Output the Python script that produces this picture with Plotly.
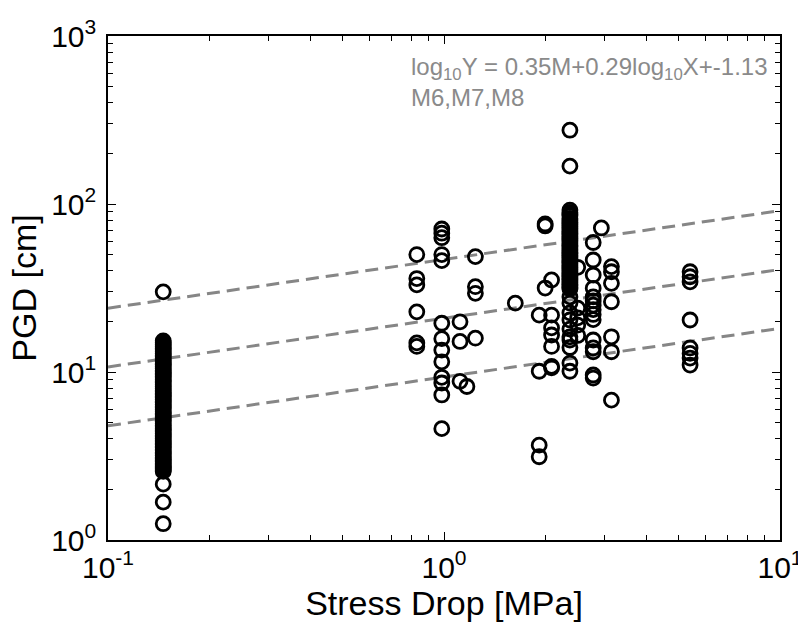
import numpy as np
import plotly.graph_objects as go

# Peak ground displacement (cm) grouped by stress drop (MPa)
stress_drop = [0.146, 0.83, 0.985, 1.116, 1.17, 1.24, 1.63, 1.92, 2.0, 2.09,
               2.37, 2.5, 2.78, 2.94, 3.15, 5.4]
pgd_groups = [
    [30, 15.3, 14.9, 14.5, 14.1, 13.8, 13.5, 13.2, 12.9, 12.6, 12.3, 12.0,
     11.7, 11.5, 11.2, 11.0, 10.7, 10.5, 10.2, 10.0, 9.8, 9.6, 9.4, 9.2, 9.0,
     8.8, 8.6, 8.4, 8.2, 8.0, 7.8, 7.6, 7.45, 7.3, 7.15, 7.0, 6.85, 6.7, 6.55,
     6.4, 6.25, 6.1, 5.95, 5.8, 5.67, 5.55, 5.42, 5.3, 5.17, 5.05, 4.92, 4.8,
     4.7, 4.6, 4.5, 4.4, 4.3, 4.2, 4.1, 4.0, 3.92, 3.85, 3.77, 3.7, 3.62,
     3.55, 3.47, 3.4, 3.32, 3.25, 3.17, 3.1, 3.04, 2.98, 2.92, 2.86, 2.8,
     2.75, 2.7, 2.65, 2.6, 2.56, 2.15, 1.68, 1.25],
    [50, 36, 33, 22.8, 14.9, 14.2],
    [71, 67, 63, 50, 46, 19.5, 15.8, 13.5, 11.5, 9.3, 8.6, 7.3, 4.6],
    [19.9, 15.2, 8.8],
    [8.2],
    [48.6, 32.2, 29.4, 15.9],
    [25.7],
    [21.8, 10.1, 3.67, 3.13],
    [76, 74, 31.6],
    [35.3, 21.8, 18.3, 16.6, 14.2, 10.8, 10.6],
    [275, 168, 92, 89, 87, 85, 82, 80, 78, 76, 74, 72, 70, 68.5, 67, 65.5, 64,
     62.5, 61, 59.5, 58, 56.7, 55.5, 54.2, 53, 51.7, 50.5, 49.2, 48, 47, 46,
     45, 44, 43, 42, 41, 40, 39.2, 38.5, 37.7, 37, 36.2, 35.5, 34.7, 34, 33.2,
     32.5, 31.8, 31.2, 28, 25.7, 22.5, 20.4, 18, 16.2, 15.5, 14, 11.3, 10.1],
    [42, 24, 21, 19, 16.5],
    [59, 46.4, 37.8, 31.5, 28, 26.5, 25, 23.5, 22, 20.5, 15.5, 13.9, 13.2,
     9.6, 9.2],
    [72],
    [42.4, 39.5, 33.7, 26.2, 16.2, 13.2, 6.8],
    [39.5, 36.9, 34.4, 20.4, 13.9, 12.9, 12.1, 11.0],
]

# Regression: log10(Y) = a*M + b*log10(X) + c
coef_a, coef_b, coef_c = 0.35, 0.29, -1.13
magnitudes = [6, 7, 8]
line_x = [0.1, 10]

x_tick_vals = [0.1, 1, 10]
x_tick_text = ["10<sup>-1</sup>", "10<sup>0</sup>", "10<sup>1</sup>"]
y_tick_vals = [1, 10, 100, 1000]
y_tick_text = ["10<sup>0</sup>", "10<sup>1</sup>", "10<sup>2</sup>", "10<sup>3</sup>"]

FONT = "Arial, Liberation Sans, Helvetica, sans-serif"

xs, ys = [], []
for sd, vals in zip(stress_drop, pgd_groups):
    xs.extend([sd] * len(vals))
    ys.extend(vals)

fig = go.Figure()

for m in magnitudes:
    lx = np.array(line_x, dtype=float)
    ly = 10 ** (coef_a * m + coef_b * np.log10(lx) + coef_c)
    fig.add_trace(go.Scatter(
        x=lx, y=ly, mode="lines",
        line=dict(color="#868686", width=3, dash="13px,7px"),
        hoverinfo="skip", showlegend=False,
    ))

fig.add_trace(go.Scatter(
    x=xs, y=ys, mode="markers",
    marker=dict(symbol="circle-open", size=14, color="black",
                line=dict(width=2.8, color="black")),
    showlegend=False,
))

# invisible trace that anchors the top/right frame axes
fig.add_trace(go.Scatter(x=[1], y=[10], xaxis="x2", yaxis="y2", mode="markers",
                         marker=dict(opacity=0), hoverinfo="skip", showlegend=False))

minor_x = [v * k for v in (0.1, 1) for k in range(2, 10)]
minor_y = [v * k for v in (1, 10, 100) for k in range(2, 10)]

minor_x_ticks = dict(tickmode="array", tickvals=minor_x, ticks="inside",
                     ticklen=5, tickwidth=1.3, tickcolor="black")
minor_y_ticks = dict(tickmode="array", tickvals=minor_y, ticks="inside",
                     ticklen=5, tickwidth=1.3, tickcolor="black")

axis_common = dict(
    type="log", showgrid=False, zeroline=False, automargin=False,
    showline=True, linecolor="black", linewidth=1.5,
    ticks="inside", ticklen=8, tickwidth=1.3, tickcolor="black",
    tickfont=dict(family=FONT, size=30, color="black"),
)

fig.update_layout(
    xaxis=dict(
        **axis_common, range=[-1, 1],
        tickmode="array", tickvals=x_tick_vals, ticktext=x_tick_text,
        minor=minor_x_ticks, ticklabeloverflow="allow",
        title=dict(text="Stress Drop [MPa]",
                   font=dict(family=FONT, size=34, color="black"), standoff=6),
    ),
    yaxis=dict(
        **axis_common, range=[0, 3],
        tickmode="array", tickvals=y_tick_vals, ticktext=y_tick_text,
        minor=minor_y_ticks, ticklabelstandoff=4, ticklabeloverflow="allow",
        title=dict(text="PGD [cm]",
                   font=dict(family=FONT, size=34, color="black"), standoff=4),
    ),
    xaxis2=dict(
        **axis_common, range=[-1, 1], overlaying="x", side="top", anchor="y",
        tickmode="array", tickvals=x_tick_vals, showticklabels=False,
        minor=minor_x_ticks,
    ),
    yaxis2=dict(
        **axis_common, range=[0, 3], overlaying="y", side="right", anchor="x",
        tickmode="array", tickvals=y_tick_vals, showticklabels=False,
        minor=minor_y_ticks,
    ),
)

fig.add_annotation(
    xref="paper", yref="paper", x=0.448, y=0.97, xanchor="left", yanchor="top",
    align="left", showarrow=False,
    text=(f"log<sub>10</sub>Y = {coef_a}M+{coef_b}log<sub>10</sub>X+{coef_c}"
          "<br>" + ",".join(f"M{m}" for m in magnitudes)),
    font=dict(family=FONT, size=24, color="#8a8a8a"),
)

fig.update_layout(
    width=798, height=632,
    margin=dict(l=108, r=18, t=36, b=92),
    paper_bgcolor="white", plot_bgcolor="white",
    font=dict(family=FONT),
)

fig.write_html("out.html")
